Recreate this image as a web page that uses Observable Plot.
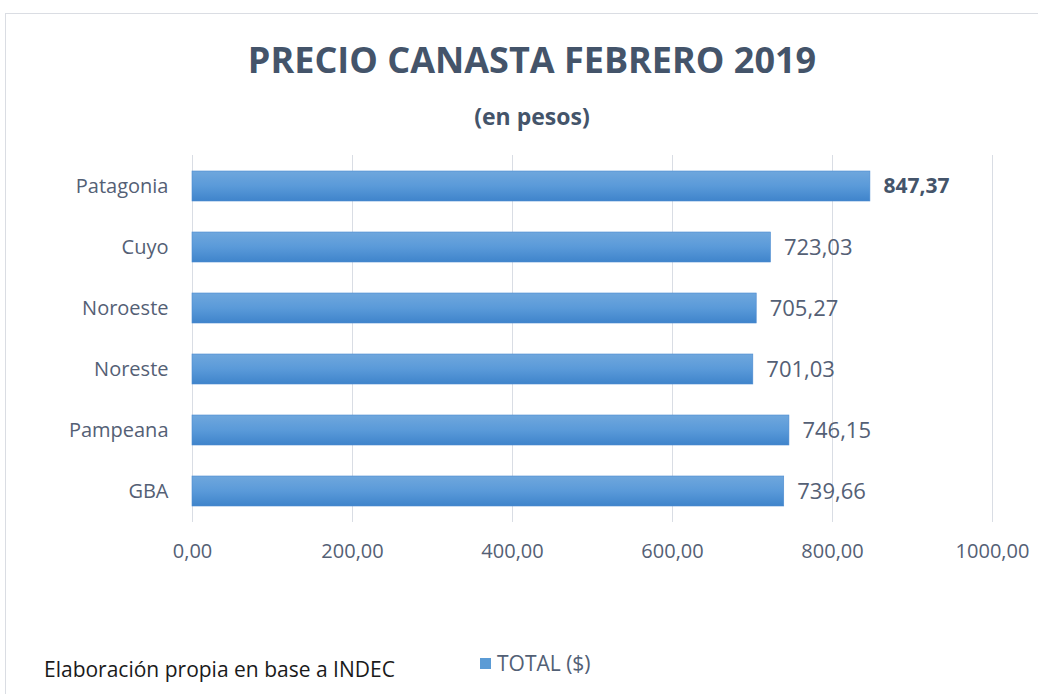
<!DOCTYPE html>
<html><head><meta charset="utf-8">
<script src="https://cdn.jsdelivr.net/npm/d3@7"></script>
<script src="https://cdn.jsdelivr.net/npm/@observablehq/plot@0.6"></script>
<style>
html,body{margin:0;padding:0;background:#fff;width:1038px;height:694px;overflow:hidden;font-family:"Open Sans",sans-serif;}
#frame{position:absolute;left:5px;top:13px;width:1040px;height:700px;border:1.5px solid #dadde3;box-sizing:border-box;}
#title{position:absolute;left:0;width:1064px;top:35px;text-align:center;font-size:36px;font-weight:700;color:#44546a;}
#sub{position:absolute;left:0;width:1064px;top:100px;text-align:center;font-size:23px;font-weight:700;color:#44546a;}
#chart{position:absolute;left:0;top:140px;}
#foot{position:absolute;left:44px;top:655px;font-size:21px;color:#1a1a1a;}
#legend{position:absolute;left:480px;top:649px;font-size:21px;color:#526075;display:flex;align-items:center;}
#legend span.sw{display:inline-block;width:11px;height:11px;background:#5b9bd5;margin-right:6px;}
</style></head>
<body>
<div id="frame"></div>
<div id="title">PRECIO CANASTA FEBRERO 2019</div>
<div id="sub">(en pesos)</div>
<div id="chart"></div>
<div id="foot">Elaboración propia en base a INDEC</div>
<div id="legend"><span class="sw"></span>TOTAL ($)</div>
<script>
const regions = ["Patagonia","Cuyo","Noroeste","Noreste","Pampeana","GBA"];
const values = [847.37, 723.03, 705.27, 701.03, 746.15, 739.66];
const xTicks = [0, 200, 400, 600, 800, 1000];

const data = regions.map((r, i) => ({region: r, value: values[i], bold: r === "Patagonia"}));
const fmt = v => v.toFixed(2).replace(".", ",");

const defs = () => {
  const ns = "http://www.w3.org/2000/svg";
  const d = document.createElementNS(ns, "defs");
  const g = document.createElementNS(ns, "linearGradient");
  g.setAttribute("id", "barGrad");
  g.setAttribute("x1", "0"); g.setAttribute("y1", "0");
  g.setAttribute("x2", "0"); g.setAttribute("y2", "1");
  [["0%", "#6fa7dd"], ["50%", "#5a9ad9"], ["100%", "#3f84cb"]].forEach(([o, c]) => {
    const s = document.createElementNS(ns, "stop");
    s.setAttribute("offset", o); s.setAttribute("stop-color", c);
    g.appendChild(s);
  });
  d.appendChild(g);
  return d;
};

const chart = Plot.plot({
  width: 1038,
  height: 440,
  marginLeft: 192,
  marginRight: 46,
  marginTop: 15,
  marginBottom: 58,
  style: {fontFamily: "Open Sans, sans-serif", background: "transparent"},
  x: {domain: [0, 1000], ticks: xTicks, tickFormat: fmt, label: null},
  y: {domain: regions, paddingInner: 0.51, paddingOuter: 0.255, label: null},
  marks: [
    defs,
    Plot.ruleX(xTicks, {stroke: "#d9dde4", strokeWidth: 1}),
    Plot.barX(data, {y: "region", x: "value", fill: "url(#barGrad)", stroke: "#4a8ad0", strokeWidth: 0.6}),
    Plot.text(data.filter(d => !d.bold), {y: "region", x: "value", text: d => fmt(d.value), textAnchor: "start", dx: 13, fontSize: 22, fill: "#546075"}),
    Plot.text(data.filter(d => d.bold), {y: "region", x: "value", text: d => fmt(d.value), textAnchor: "start", dx: 13, fontSize: 21, fontWeight: "bold", fill: "#44546a"}),
    Plot.axisY({tickSize: 0, tickPadding: 24, fontSize: 20, color: "#546075", label: null}),
    Plot.axisX({ticks: xTicks, tickFormat: fmt, tickSize: 0, tickPadding: 21, fontSize: 20, color: "#546075", label: null})
  ]
});
document.getElementById("chart").appendChild(chart);
</script>
</body></html>
